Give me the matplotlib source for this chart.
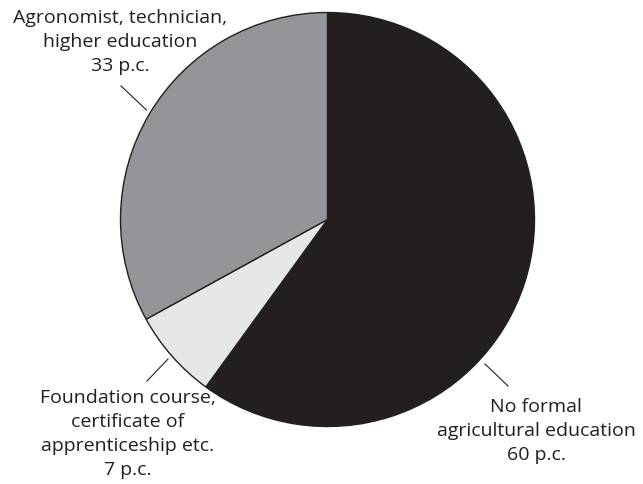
import matplotlib
matplotlib.use("Agg")
import matplotlib.pyplot as plt

labels = ["No formal\nagricultural education\n60 p.c.",
          "Foundation course,\ncertificate of\napprenticeship etc.\n7 p.c.",
          "Agronomist, technician,\nhigher education\n33 p.c."]
values = [60, 7, 33]
colors = ["#231f20", "#e6e7e8", "#939598"]

W, H = 643, 485
fig = plt.figure(figsize=(W / 100, H / 100), dpi=100)
ax = fig.add_axes([0, 0, 1, 1])

cx, cy, r = 327.5, H - 220.5, 207
ax.pie(values, colors=colors, startangle=90, counterclock=False,
       center=(cx, cy), radius=r, frame=True,
       wedgeprops=dict(edgecolor="#231f20", linewidth=1.0))
ax.set_xlim(0, W)
ax.set_ylim(0, H)
ax.set_aspect("equal")
ax.axis("off")

font = "Open Sans"
txt_color = "#231f20"
# label positions (text centre, top) and leader lines in pixel space
label_pos = [(536, 398), (128, 389), (120, 9)]
leaders = [((485, 365), (508, 387)),
           ((168, 360), (147, 382)),
           ((146.5, 111), (121, 87))]
for lab, (tx, ty), ((x0, y0), (x1, y1)) in zip(labels, label_pos, leaders):
    ax.text(tx, H - ty, lab, ha="center", va="top", fontsize=14,
            family=font, color=txt_color, linespacing=1.42)
    ax.plot([x0, x1], [H - y0, H - y1], color=txt_color, lw=0.8)

fig.savefig("out.png", dpi=100)
